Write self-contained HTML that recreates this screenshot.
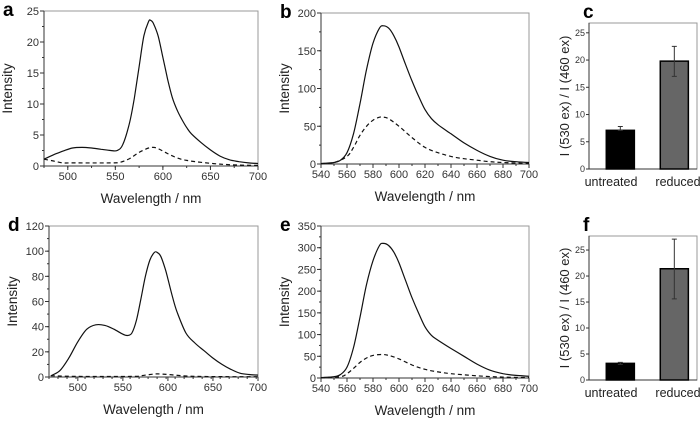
<!DOCTYPE html>
<html><head><meta charset="utf-8"><style>
html,body{margin:0;padding:0;background:#fff;}
svg{display:block;font-family:"Liberation Sans",sans-serif;}
</style></head><body>
<svg id="fig" width="700" height="422" viewBox="0 0 700 422"></svg>
<script>
// Panel a
const aWl=[475,485,495,505,515,525,535,545,552,558,565,570,575,580,585,587,590,595,600,605,610,615,620,625,630,640,650,660,670,680,690,700];
const aSolid=[1.1,1.8,2.4,2.9,3.0,2.9,2.7,2.5,2.5,3.5,7,11,16,21,23.3,23.5,23,21,17.5,14,11,9,7.5,6.2,5.2,3.8,2.6,1.6,1.0,0.7,0.5,0.4];
const aDashWl=[475,485,495,505,545,555,565,575,585,590,595,605,615,625,640,660,680,700];
const aDash=[1.1,0.8,0.5,0.5,0.5,0.6,1.2,2.2,2.9,3.0,2.8,2.0,1.3,0.9,0.6,0.3,0.15,0.1];
const aYTicks=[0,5,10,15,20,25];
const aXTicks=[500,550,600,650,700];
// Panel b
const bWl=[540,550,555,560,565,570,575,580,585,588,592,596,600,605,610,615,620,625,630,640,650,660,670,680,690,700];
const bSolid=[0.5,2,5,15,40,80,125,160,180,183,180,170,155,132,110,90,72,60,52,40,28,18,10,5,3,2];
const bDashWl=[540,550,560,565,570,575,580,585,588,592,600,610,620,630,640,650,660,670,680,700];
const bDash=[0.5,2,10,22,38,50,58,62,62,60,50,35,22,15,10,7,5,3,2,0.5];
const bYTicks=[0,50,100,150,200];
const bXTicks=[540,560,580,600,620,640,660,680,700];
// Panel d
const dWl=[470,480,490,500,510,520,530,540,550,555,560,565,570,575,580,585,588,592,597,600,605,610,620,630,640,650,660,670,680,690,700];
const dSolid=[1,5,15,28,38,41.5,41,38,34,33,35,45,62,80,93,99,99,96,86,78,64,52,35,27,21,15,10,6,3,2,1.5];
const dDashWl=[470,500,560,570,580,588,600,620,650,700];
const dDash=[1,0.5,0.5,1,2,2.5,2,0.8,0.3,0.2];
const dYTicks=[0,20,40,60,80,100,120];
const dXTicks=[500,550,600,650,700];
// Panel e
const eWl=[540,550,555,560,565,570,575,580,585,588,592,596,600,605,610,615,620,625,630,640,650,660,670,680,690,700];
const eSolid=[1,3,8,25,70,140,215,270,305,310,305,290,265,225,185,150,118,98,87,68,50,32,18,10,6,4];
const eDashWl=[540,555,560,565,570,575,580,587,592,600,610,620,630,640,660,680,700];
const eDash=[0.5,3,10,22,36,46,52,54,52,44,30,20,14,10,5,2,1];
const eYTicks=[0,50,100,150,200,250,300,350];
// Bars
const barCats=["untreated","reduced"];
const cVals=[7.1,19.8];
const cErrLo=[7.1,17.0];
const cErrHi=[7.8,22.5];
const fVals=[3.2,21.4];
const fErrLo=[3.0,15.6];
const fErrHi=[3.4,27.1];
const barYTicks=[0,5,10,15,20,25];

const NS="http://www.w3.org/2000/svg";
const svg=document.getElementById('fig');
function mk(tag,attrs,parent){const e=document.createElementNS(NS,tag);for(const k in attrs)e.setAttribute(k,attrs[k]);(parent||svg).appendChild(e);return e;}
function txt(s,x,y,attrs,parent){const t=mk('text',Object.assign({x:x,y:y},attrs),parent);t.textContent=s;return t;}
function smooth(p){
  let d='M'+p[0][0].toFixed(1)+','+p[0][1].toFixed(1);
  for(let i=0;i<p.length-1;i++){
    const p0=p[Math.max(0,i-1)],p1=p[i],p2=p[i+1],p3=p[Math.min(p.length-1,i+2)];
    const c1x=p1[0]+(p2[0]-p0[0])/6,c1y=p1[1]+(p2[1]-p0[1])/6;
    const c2x=p2[0]-(p3[0]-p1[0])/6,c2y=p2[1]-(p3[1]-p1[1])/6;
    d+=`C${c1x.toFixed(1)},${c1y.toFixed(1)} ${c2x.toFixed(1)},${c2y.toFixed(1)} ${p2[0].toFixed(1)},${p2[1].toFixed(1)}`;
  }
  return d;
}

function spectrum(name,letter,box,xr,yr,xt,yt,minorX,minorY,series){
  const g=mk('g',{});
  
  
  const X=v=>box.l+(v-xr[0])/(xr[1]-xr[0])*(box.r-box.l);
  const Y=v=>box.b-(v-yr[0])/(yr[1]-yr[0])*(box.b-box.t);
  const fr=mk('rect',{x:box.l,y:box.t,width:box.r-box.l,height:box.b-box.t,fill:'none',stroke:'#999','stroke-width':1},g);
  
  
  mk('line',{x1:box.l,y1:box.t,x2:box.l,y2:box.b,stroke:'#333'},g);
  mk('line',{x1:box.l,y1:box.b,x2:box.r,y2:box.b,stroke:'#333'},g);
  for(let v=xr[0];v<=xr[1]+0.001;v+=minorX){const x=X(v);mk('line',{x1:x,y1:box.b,x2:x,y2:box.b+2,stroke:'#333'},g);}
  for(let v=yr[0];v<=yr[1]+0.001;v+=minorY){const y=Y(v);mk('line',{x1:box.l,y1:y,x2:box.l-2,y2:y,stroke:'#333'},g);}
  xt.forEach(v=>{const x=X(v);mk('line',{x1:x,y1:box.b,x2:x,y2:box.b+4,stroke:'#333'},g);
    const t=txt(String(v),x,box.b+14,{'font-size':11,'text-anchor':'middle',fill:'#333'},g);
    });
  yt.forEach(v=>{const y=Y(v);mk('line',{x1:box.l,y1:y,x2:box.l-4,y2:y,stroke:'#333'},g);
    const t=txt(String(v),box.l-5,y+4,{'font-size':11,'text-anchor':'end',fill:'#333'},g);
    });
  const xtl=txt('Wavelength / nm',(box.l+box.r)/2,box.b+37,{'font-size':13.5,'text-anchor':'middle',fill:'#222'},g);
  
  const ytl=txt('Intensity',0,0,{'font-size':13.5,'text-anchor':'middle',fill:'#222',transform:`translate(${box.l-32},${(box.t+box.b)/2}) rotate(-90)`},g);
  
  const pl=txt(letter,box.l-41,box.t+5,{'font-size':19,'font-weight':'bold',fill:'#000'},g);
  
  series.forEach(s=>{
    const pts=s.x.map((v,i)=>[X(v),Y(s.y[i])]);
    const p=mk('path',{d:smooth(pts),fill:'none',stroke:'#111','stroke-width':1.2,'stroke-dasharray':s.dash?'4,3':'none','stroke-linejoin':'round'},g);
    
    
  });
}

function bars(name,letter,box,ymax,vals,lo,hi){
  const g=mk('g',{});
  
  
  const Y=v=>box.b-v/ymax*(box.b-box.t);
  const fr=mk('rect',{x:box.l,y:box.t,width:box.r-box.l,height:box.b-box.t,fill:'none',stroke:'#999'},g);
  
  
  mk('line',{x1:box.l,y1:box.t,x2:box.l,y2:box.b,stroke:'#333'},g);
  mk('line',{x1:box.l,y1:box.b,x2:box.r,y2:box.b,stroke:'#333'},g);
  barYTicks.forEach(v=>{const y=Y(v);mk('line',{x1:box.l,y1:y,x2:box.l-3,y2:y,stroke:'#333'},g);
    const t=txt(String(v),box.l-4,y+3,{'font-size':9,'text-anchor':'end',fill:'#333'},g);
    });
  const w=(box.r-box.l);
  const cx=[box.l+w*0.29,box.l+w*0.79];
  const lx=[611,678];
  const bw=w*0.26;
  const fills=['#000','#666'];
  vals.forEach((v,i)=>{
    const r=mk('rect',{x:cx[i]-bw/2,y:Y(v),width:bw,height:Y(0)-Y(v),fill:fills[i],stroke:'#000','stroke-width':1.5},g);
    
    
    const e=mk('path',{d:`M${cx[i]},${Y(lo[i])}V${Y(hi[i])}M${cx[i]-2.5},${Y(lo[i])}h5M${cx[i]-2.5},${Y(hi[i])}h5`,stroke:'#333','stroke-width':1,fill:'none'},g);
    
    
    const t=txt(barCats[i],lx[i],box.b+17,{'font-size':12.5,'text-anchor':'middle',fill:'#222'},g);
    
  });
  const ytl=txt('I (530 ex) / I (460 ex)',0,0,{'font-size':13,'text-anchor':'middle',fill:'#222',transform:`translate(${box.l-20},${(box.t+box.b)/2}) rotate(-90)`},g);
  
  const pl=txt(letter,box.l-6,box.t-5,{'font-size':19,'font-weight':'bold',fill:'#000'},g);
  
}

spectrum('panel-a','a',{l:44,r:258,t:11,b:166},[475,700],[0,25],aXTicks,aYTicks,25,2.5,[{x:aWl,y:aSolid},{x:aDashWl,y:aDash,dash:true}]);
spectrum('panel-b','b',{l:321,r:529,t:13,b:164},[540,700],[0,200],bXTicks,bYTicks,10,25,[{x:bWl,y:bSolid},{x:bDashWl,y:bDash,dash:true}]);
spectrum('panel-d','d',{l:49,r:258,t:226,b:377},[468,700],[0,120],dXTicks,dYTicks,10,10,[{x:dWl,y:dSolid},{x:dDashWl,y:dDash,dash:true}]);
spectrum('panel-e','e',{l:321,r:529,t:226,b:378},[540,700],[0,350],bXTicks,eYTicks,10,25,[{x:eWl,y:eSolid},{x:eDashWl,y:eDash,dash:true}]);
bars('panel-c','c',{l:589,r:697,t:23,b:169},26.8,cVals,cErrLo,cErrHi);
bars('panel-f','f',{l:589,r:697,t:236,b:380},27.7,fVals,fErrLo,fErrHi);
</script>
</body></html>
